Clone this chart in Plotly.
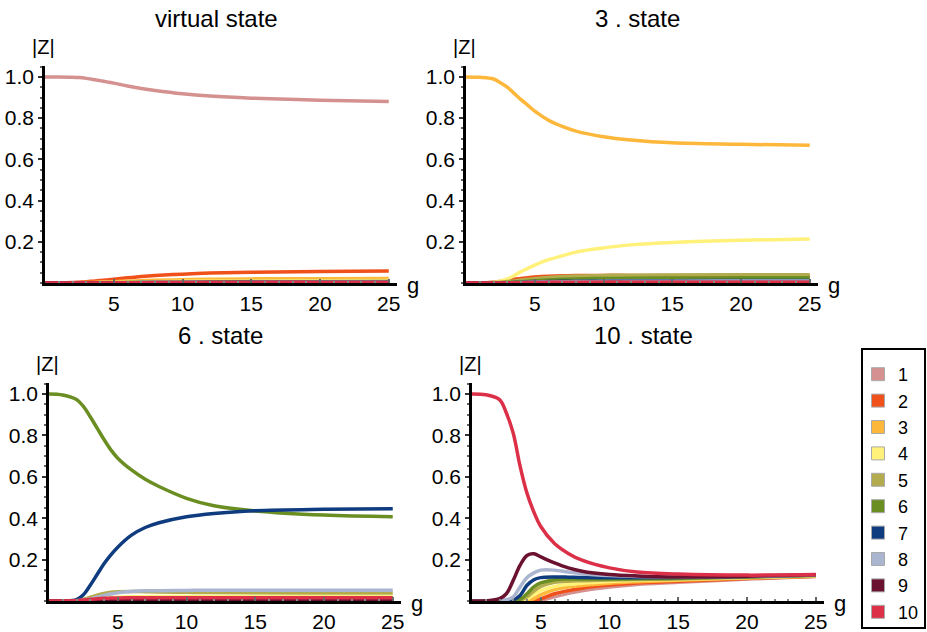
import plotly.graph_objects as go

# coupling strength grid
g = [0, 1, 2, 2.5, 3, 3.5, 4, 4.5, 5, 6, 7, 8, 10, 12, 15, 20, 25]

state_labels = ["1", "2", "3", "4", "5", "6", "7", "8", "9", "10"]
state_colors = ["#D4918F", "#F0501A", "#FDB73B", "#FFF17A", "#B2AC4E",
                "#6B8E23", "#0F3C7E", "#AAB6CF", "#6B1230", "#DC3048"]

panel_titles = ["virtual state", "3 . state", "6 . state", "10 . state"]

# |Z| components, one list per basis state, for each tracked state
virtual_state = [
    [1.0, 1.0, 0.999, 0.997, 0.993, 0.988, 0.982, 0.976, 0.97, 0.956, 0.944, 0.934, 0.918, 0.907, 0.897, 0.887, 0.881],
    [0, 0, 0.002, 0.004, 0.006, 0.009, 0.012, 0.015, 0.018, 0.025, 0.031, 0.036, 0.043, 0.048, 0.052, 0.056, 0.058],
    [0, 0, 0, 0.001, 0.002, 0.003, 0.004, 0.005, 0.006, 0.009, 0.011, 0.013, 0.016, 0.018, 0.020, 0.021, 0.022],
    [0, 0, 0, 0, 0.001, 0.001, 0.002, 0.002, 0.003, 0.004, 0.005, 0.006, 0.008, 0.009, 0.010, 0.011, 0.012],
    [0, 0, 0, 0, 0, 0.001, 0.001, 0.002, 0.002, 0.003, 0.004, 0.004, 0.005, 0.006, 0.007, 0.007, 0.008],
    [0, 0, 0, 0, 0, 0, 0.001, 0.001, 0.001, 0.002, 0.002, 0.003, 0.003, 0.004, 0.004, 0.005, 0.005],
    [0, 0, 0, 0, 0, 0, 0, 0.001, 0.001, 0.001, 0.002, 0.002, 0.003, 0.003, 0.004, 0.004, 0.004],
    [0, 0, 0, 0, 0, 0, 0, 0, 0.001, 0.001, 0.002, 0.002, 0.003, 0.003, 0.003, 0.004, 0.004],
    [0, 0, 0, 0, 0, 0, 0, 0, 0, 0.001, 0.001, 0.001, 0.001, 0.002, 0.002, 0.002, 0.002],
    [0, 0, 0, 0, 0, 0, 0, 0, 0.001, 0.001, 0.001, 0.002, 0.002, 0.002, 0.003, 0.003, 0.003],
]

state_3 = [
    [0, 0, 0.001, 0.003, 0.006, 0.010, 0.014, 0.018, 0.021, 0.025, 0.027, 0.028, 0.029, 0.030, 0.030, 0.030, 0.030],
    [0, 0, 0.004, 0.008, 0.013, 0.018, 0.022, 0.026, 0.029, 0.033, 0.035, 0.036, 0.037, 0.037, 0.036, 0.035, 0.034],
    [1.0, 0.998, 0.99, 0.972, 0.95, 0.92, 0.89, 0.862, 0.834, 0.79, 0.76, 0.737, 0.71, 0.694, 0.68, 0.673, 0.668],
    [0, 0, 0.003, 0.010, 0.020, 0.036, 0.055, 0.071, 0.087, 0.113, 0.132, 0.150, 0.170, 0.185, 0.197, 0.207, 0.214],
    [0, 0, 0.002, 0.004, 0.007, 0.010, 0.014, 0.018, 0.021, 0.027, 0.031, 0.034, 0.037, 0.038, 0.039, 0.040, 0.040],
    [0, 0, 0, 0.001, 0.002, 0.004, 0.006, 0.009, 0.011, 0.015, 0.018, 0.020, 0.022, 0.023, 0.024, 0.025, 0.025],
    [0, 0, 0, 0, 0.001, 0.002, 0.003, 0.004, 0.005, 0.007, 0.008, 0.009, 0.010, 0.011, 0.011, 0.012, 0.012],
    [0, 0, 0, 0, 0, 0.001, 0.002, 0.003, 0.004, 0.005, 0.006, 0.007, 0.008, 0.009, 0.009, 0.010, 0.010],
    [0, 0, 0, 0, 0, 0, 0.001, 0.001, 0.001, 0.002, 0.002, 0.002, 0.003, 0.003, 0.003, 0.003, 0.003],
    [0, 0, 0, 0, 0, 0.001, 0.001, 0.002, 0.002, 0.003, 0.003, 0.003, 0.004, 0.004, 0.004, 0.004, 0.004],
]

state_6 = [
    [0, 0, 0, 0.001, 0.002, 0.003, 0.004, 0.005, 0.006, 0.007, 0.008, 0.008, 0.009, 0.009, 0.009, 0.009, 0.009],
    [0, 0, 0, 0.001, 0.002, 0.004, 0.005, 0.006, 0.007, 0.008, 0.009, 0.010, 0.010, 0.010, 0.010, 0.010, 0.010],
    [0, 0, 0.001, 0.002, 0.004, 0.006, 0.008, 0.010, 0.011, 0.012, 0.013, 0.013, 0.013, 0.013, 0.013, 0.013, 0.013],
    [0, 0, 0.001, 0.003, 0.006, 0.010, 0.013, 0.016, 0.018, 0.020, 0.021, 0.022, 0.022, 0.022, 0.022, 0.022, 0.022],
    [0, 0, 0.003, 0.009, 0.018, 0.028, 0.036, 0.042, 0.045, 0.046, 0.045, 0.044, 0.042, 0.041, 0.040, 0.039, 0.039],
    [1.0, 0.995, 0.973, 0.94, 0.89, 0.835, 0.78, 0.73, 0.69, 0.633, 0.588, 0.553, 0.496, 0.46, 0.435, 0.415, 0.407],
    [0, 0, 0.006, 0.030, 0.076, 0.128, 0.180, 0.223, 0.260, 0.318, 0.355, 0.378, 0.407, 0.423, 0.436, 0.443, 0.446],
    [0, 0, 0.001, 0.004, 0.010, 0.018, 0.027, 0.034, 0.040, 0.046, 0.049, 0.050, 0.051, 0.052, 0.052, 0.052, 0.052],
    [0, 0, 0, 0.001, 0.002, 0.003, 0.003, 0.004, 0.004, 0.005, 0.005, 0.005, 0.005, 0.005, 0.005, 0.005, 0.005],
    [0, 0, 0.002, 0.005, 0.008, 0.011, 0.013, 0.014, 0.015, 0.016, 0.016, 0.016, 0.016, 0.016, 0.016, 0.016, 0.016],
]

state_10 = [
    [0, 0, 0, 0, 0, 0, 0, 0.001, 0.003, 0.020, 0.037, 0.050, 0.068, 0.080, 0.090, 0.106, 0.118],
    [0, 0, 0, 0, 0, 0, 0.001, 0.004, 0.010, 0.035, 0.050, 0.062, 0.077, 0.087, 0.095, 0.109, 0.120],
    [0, 0, 0, 0, 0, 0, 0.003, 0.012, 0.030, 0.055, 0.068, 0.075, 0.086, 0.093, 0.100, 0.111, 0.120],
    [0, 0, 0, 0, 0, 0.002, 0.010, 0.030, 0.050, 0.070, 0.080, 0.086, 0.094, 0.100, 0.104, 0.113, 0.122],
    [0, 0, 0, 0, 0.001, 0.004, 0.020, 0.048, 0.070, 0.090, 0.096, 0.098, 0.101, 0.104, 0.106, 0.115, 0.123],
    [0, 0, 0, 0, 0.002, 0.008, 0.035, 0.068, 0.087, 0.103, 0.106, 0.106, 0.106, 0.108, 0.110, 0.117, 0.124],
    [0, 0, 0, 0.002, 0.006, 0.027, 0.076, 0.103, 0.113, 0.116, 0.115, 0.113, 0.112, 0.112, 0.113, 0.118, 0.125],
    [0, 0, 0.001, 0.006, 0.020, 0.068, 0.113, 0.136, 0.149, 0.149, 0.140, 0.132, 0.123, 0.118, 0.116, 0.120, 0.125],
    [0, 0.001, 0.011, 0.035, 0.100, 0.173, 0.220, 0.228, 0.213, 0.184, 0.160, 0.144, 0.128, 0.121, 0.116, 0.120, 0.127],
    [1.0, 0.996, 0.973, 0.908, 0.81, 0.65, 0.52, 0.43, 0.36, 0.278, 0.23, 0.197, 0.16, 0.14, 0.13, 0.125, 0.128],
]

panels = [virtual_state, state_3, state_6, state_10]

W, H = 927, 632
FONT = "Liberation Sans, Arial, Helvetica, sans-serif"

# plot-area boxes in pixels: (left, right, top, bottom)
boxes = [(45, 397, 66, 283), (466, 818, 66, 283),
         (49, 401, 383, 601), (472, 824, 383, 601)]

fig = go.Figure()

for p, (data, box) in enumerate(zip(panels, boxes)):
    sfx = "" if p == 0 else str(p + 1)
    for k, series in enumerate(data):
        fig.add_trace(go.Scatter(
            x=g, y=series, mode="lines",
            line=dict(color=state_colors[k], width=3.5, shape="spline", smoothing=1.0),
            xaxis="x" + sfx, yaxis="y" + sfx, showlegend=False, hoverinfo="skip",
        ))

    l, r, t, b = box
    fig.layout["xaxis" + sfx] = dict(
        domain=[l / W, r / W], range=[0, 25.6], anchor="y" + sfx,
        tickmode="array", tickvals=[5, 10, 15, 20, 25],
        ticks="inside", ticklen=4, tickwidth=1.5, tickcolor="#666",
        minor=dict(dtick=1, tick0=0, ticks="inside", ticklen=2, tickwidth=1.5, tickcolor="#888"),
        showline=True, linecolor="black", linewidth=2.5,
        showgrid=False, zeroline=False, automargin=False,
        tickfont=dict(family=FONT, size=21, color="black"),
    )
    fig.layout["yaxis" + sfx] = dict(
        domain=[1 - b / H, 1 - t / H], range=[0, 1.053], anchor="x" + sfx,
        tickmode="array", tickvals=[0.2, 0.4, 0.6, 0.8, 1.0],
        ticktext=["0.2", "0.4", "0.6", "0.8", "1.0"],
        ticks="outside", ticklen=4, tickwidth=1.5, tickcolor="#333",
        minor=dict(dtick=0.05, tick0=0, ticks="outside", ticklen=2, tickwidth=1.5, tickcolor="#666"),
        showline=True, linecolor="black", linewidth=2.5,
        showgrid=False, zeroline=False, automargin=False,
        tickfont=dict(family=FONT, size=21, color="black"),
    )

    # panel title and axis names
    fig.add_annotation(x=(l + r) / 2 / W - 0.005, y=1 - (t - 48) / H, xref="paper", yref="paper",
                       text=panel_titles[p], showarrow=False,
                       font=dict(family=FONT, size=24, color="black"),
                       xanchor="center", yanchor="middle")
    fig.add_annotation(x=(l - 2) / W, y=1 - (t - 19) / H, xref="paper", yref="paper",
                       text="|Z|", showarrow=False,
                       font=dict(family=FONT, size=20, color="black"),
                       xanchor="center", yanchor="middle")
    fig.add_annotation(x=(r + 16) / W, y=1 - (b + 2) / H, xref="paper", yref="paper",
                       text="g", showarrow=False,
                       font=dict(family=FONT, size=22, color="black"),
                       xanchor="center", yanchor="middle")

# legend entries: one square swatch per basis state
for k, name in enumerate(state_labels):
    fig.add_trace(go.Scatter(
        x=[None], y=[None], mode="markers", name=name,
        marker=dict(symbol="square", size=13, color=state_colors[k],
                    line=dict(color="#aaaaaa", width=1)),
        showlegend=True, legendgroup=name,
    ))

# frame around the legend
fig.add_shape(type="rect", xref="paper", yref="paper",
              x0=862 / W, x1=925 / W, y0=1 - 628 / H, y1=1 - 349 / H,
              line=dict(color="black", width=2), fillcolor="rgba(0,0,0,0)")

fig.update_layout(
    width=W, height=H, autosize=False,
    margin=dict(l=0, r=0, t=0, b=0),
    paper_bgcolor="white", plot_bgcolor="white",
    legend=dict(
        x=858 / W, y=1 - 356 / H, xanchor="left", yanchor="top",
        borderwidth=0, bgcolor="rgba(0,0,0,0)",
        font=dict(family=FONT, size=18, color="black"),
        tracegroupgap=0, itemwidth=30,
    ),
)

fig.write_html("out.html")
